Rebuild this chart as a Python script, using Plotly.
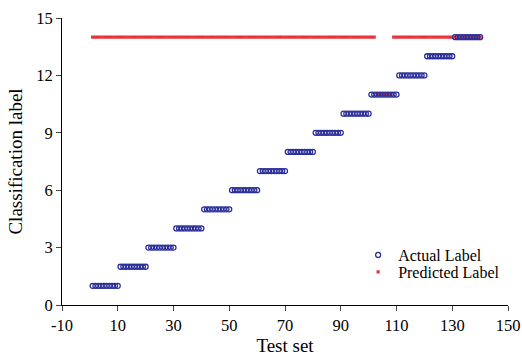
import plotly.graph_objects as go

test_idx = list(range(1, 141))
actual = [c for c in range(1, 15) for _ in range(10)]
predicted = [14] * 102 + [11] * 6 + [14] * 32

x_ticks = [-10, 10, 30, 50, 70, 90, 110, 130, 150]
x_tick_text = ["-10", "10", "30", "50", "70", "90", "110", "130", "150"]
y_ticks = [0, 3, 6, 9, 12, 15]

fig = go.Figure()
fig.add_trace(go.Scatter(
    x=test_idx, y=predicted, mode="markers", name="Predicted Label",
    legend="legend2",
    marker=dict(symbol="square", size=3.2, color="#e8333a", line=dict(width=0)),
))
fig.add_trace(go.Scatter(
    x=test_idx, y=actual, mode="markers", name="Actual Label",
    legend="legend",
    marker=dict(symbol="circle-open", size=5, color="#2b2f9a", line=dict(width=1.3)),
))

font = "Liberation Serif, Times New Roman, serif"
leg_common = dict(xanchor="left", yanchor="middle",
                  font=dict(family=font, size=16),
                  bgcolor="rgba(0,0,0,0)", itemwidth=30)
fig.update_layout(
    width=522, height=356,
    margin=dict(l=62, r=14, t=18, b=51),
    paper_bgcolor="white", plot_bgcolor="white",
    font=dict(family=font, size=16.5, color="black"),
    showlegend=True,
    legend=dict(x=0.664, y=0.174, **leg_common),
    legend2=dict(x=0.664, y=0.115, **leg_common),
    xaxis=dict(range=[-10, 150], tickvals=x_ticks, ticktext=x_tick_text,
               ticks="outside", ticklen=5, automargin=False,
               showline=True, linecolor="black", linewidth=1, showgrid=False,
               zeroline=False, title=dict(text="Test set", standoff=0,
               font=dict(size=19))),
    yaxis=dict(range=[0, 15], tickvals=y_ticks, ticks="outside", ticklen=5,
               automargin=False,
               showline=True, linecolor="black", linewidth=1, showgrid=False,
               zeroline=False, title=dict(text="Classification label", standoff=8,
               font=dict(size=19))),
)
fig.write_html("out.html",
               config={"displayModeBar": False},
               post_script="document.body.style.margin='0';document.body.style.overflow='hidden';")
